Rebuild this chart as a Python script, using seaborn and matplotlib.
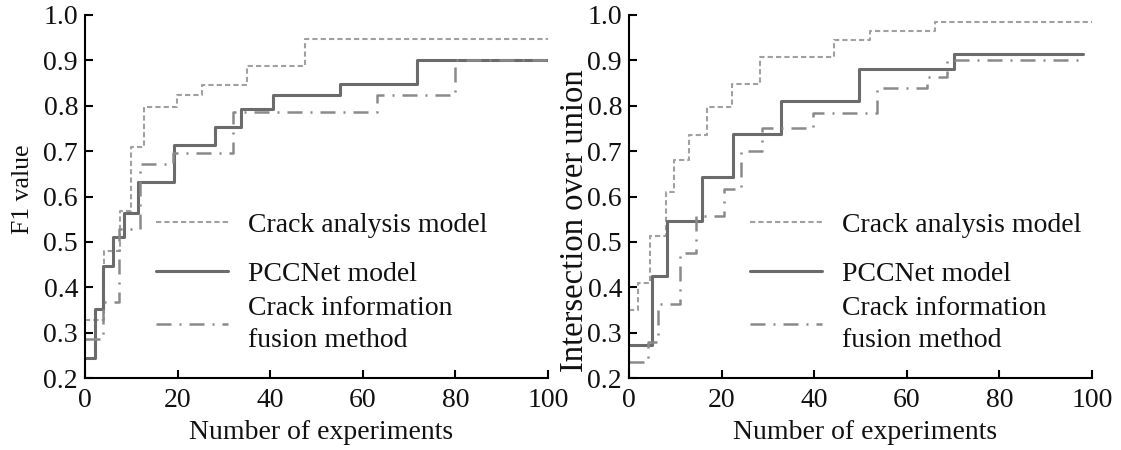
import matplotlib
matplotlib.use("Agg")
import matplotlib.pyplot as plt
import seaborn as sns
import pandas as pd

# ---------------- data ----------------
series_names = ["Crack analysis model", "PCCNet model", "Crack information\nfusion method"]

# Left panel: F1 value
f1_crack_x = [0, 4.1, 7.6, 9.9, 12.7, 19.8, 25.3, 34.9, 47.5, 100]
f1_crack_y = [0.328, 0.479, 0.569, 0.708, 0.798, 0.823, 0.845, 0.888, 0.948, 0.948]
f1_pcc_x = [0, 2.2, 3.8, 6.1, 8.5, 11.5, 19.2, 28.0, 33.6, 40.7, 55.1, 71.7, 100]
f1_pcc_y = [0.244, 0.353, 0.446, 0.511, 0.563, 0.632, 0.713, 0.753, 0.792, 0.823, 0.849, 0.90, 0.90]
f1_fus_x = [0, 3.8, 7.4, 11.9, 19.1, 32.0, 63.0, 79.9, 100]
f1_fus_y = [0.285, 0.367, 0.529, 0.671, 0.695, 0.787, 0.823, 0.90, 0.90]

# Right panel: Intersection over union
iou_crack_x = [0, 2.0, 4.5, 7.9, 9.7, 13.0, 16.9, 22.3, 28.3, 44.3, 52.1, 66.1, 100]
iou_crack_y = [0.349, 0.409, 0.513, 0.609, 0.681, 0.736, 0.797, 0.849, 0.908, 0.945, 0.964, 0.984, 0.984]
iou_pcc_x = [0, 4.9, 8.3, 15.7, 22.4, 32.8, 49.7, 70.2, 98.1]
iou_pcc_y = [0.273, 0.425, 0.545, 0.642, 0.738, 0.81, 0.881, 0.913, 0.913]
iou_fus_x = [0, 4.0, 6.3, 11.0, 14.4, 20.6, 24.2, 28.7, 39.8, 53.5, 64.3, 68.6, 98.5]
iou_fus_y = [0.236, 0.28, 0.362, 0.475, 0.556, 0.616, 0.70, 0.752, 0.784, 0.84, 0.864, 0.90, 0.90]

x_ticks = [0, 20, 40, 60, 80, 100]
y_ticks = [0.2, 0.3, 0.4, 0.5, 0.6, 0.7, 0.8, 0.9, 1.0]
x_label = "Number of experiments"
y_labels = ["F1 value", "Intersection over union"]

# ---------------- style ----------------
sns.set_theme(style="ticks")
plt.rcParams["font.family"] = ["Liberation Serif", "DejaVu Serif"]
plt.rcParams["axes.linewidth"] = 1.5
plt.rcParams["xtick.direction"] = "in"
plt.rcParams["ytick.direction"] = "in"

TXT = "#111111"
styles = [
    dict(color="#a0a0a0", lw=1.5, linestyle=(0, (2.5, 1.5))),
    dict(color="#6b6b6b", lw=2.2, linestyle="-"),
    dict(color="#8a8a8a", lw=1.8, linestyle=(0, (6, 3.2, 0.8, 3.2))),
]

fig = plt.figure(figsize=(11.21, 4.5), dpi=100)
ax1 = fig.add_axes([85 / 1121, 72 / 450, 463 / 1121, 363 / 450])
ax2 = fig.add_axes([629 / 1121, 72 / 450, 463 / 1121, 363 / 450])

# per panel: axes, data, ylabel, ylabel size, ylabel coords, xlabel coords, legend x
panels = [
    (ax1, [(f1_crack_x, f1_crack_y), (f1_pcc_x, f1_pcc_y), (f1_fus_x, f1_fus_y)],
     y_labels[0], 18.5, (-0.134, 0.521), (0.51, -0.1515), 0.153),
    (ax2, [(iou_crack_x, iou_crack_y), (iou_pcc_x, iou_pcc_y), (iou_fus_x, iou_fus_y)],
     y_labels[1], 23.5, (-0.117, 0.4325), (0.51, -0.1515), 0.261),
]

for ax, data, ylab, ysz, ycoord, xcoord, lx in panels:
    for (xs, ys), name, st in zip(data, series_names, styles):
        df = pd.DataFrame({"x": xs, "y": ys})
        sns.lineplot(data=df, x="x", y="y", ax=ax, label=name,
                     drawstyle="steps-post", estimator=None, **st)
    ax.set_xlim(0, 100)
    ax.set_ylim(0.2, 1.0)
    ax.set_xticks(x_ticks)
    ax.set_xticklabels([str(t) for t in x_ticks])
    ax.set_yticks(y_ticks)
    ax.set_yticklabels([f"{t:.1f}" for t in y_ticks])
    ax.tick_params(axis="both", labelsize=20, length=6, width=1.5, color="black",
                   labelcolor=TXT)
    ax.tick_params(axis="x", pad=7)
    ax.tick_params(axis="y", pad=5)
    ax.set_xlabel(x_label, fontsize=20, color=TXT, va="center")
    ax.xaxis.set_label_coords(*xcoord)
    ax.set_ylabel(ylab, fontsize=ysz, color=TXT, va="center")
    ax.yaxis.set_label_coords(*ycoord)
    for side in ["top", "right"]:
        ax.spines[side].set_visible(False)
    for side in ["left", "bottom"]:
        ax.spines[side].set_color("black")

    handles, labels = ax.get_legend_handles_labels()
    common = dict(frameon=False, fontsize=20, handlelength=2.6, handletextpad=0.7,
                  borderpad=0, borderaxespad=0)
    leg1 = ax.legend(handles[:1], labels[:1], loc="center left",
                     bbox_to_anchor=(lx, 0.421), **common)
    for t in leg1.get_texts():
        t.set_color(TXT)
    ax.add_artist(leg1)
    leg2 = ax.legend(handles[1:], labels[1:], loc="upper left",
                     bbox_to_anchor=(lx, 0.322), labelspacing=0.345, **common)
    for t in leg2.get_texts():
        t.set_color(TXT)
        t.set_linespacing(1.37)

fig.savefig("out.png", dpi=100)
